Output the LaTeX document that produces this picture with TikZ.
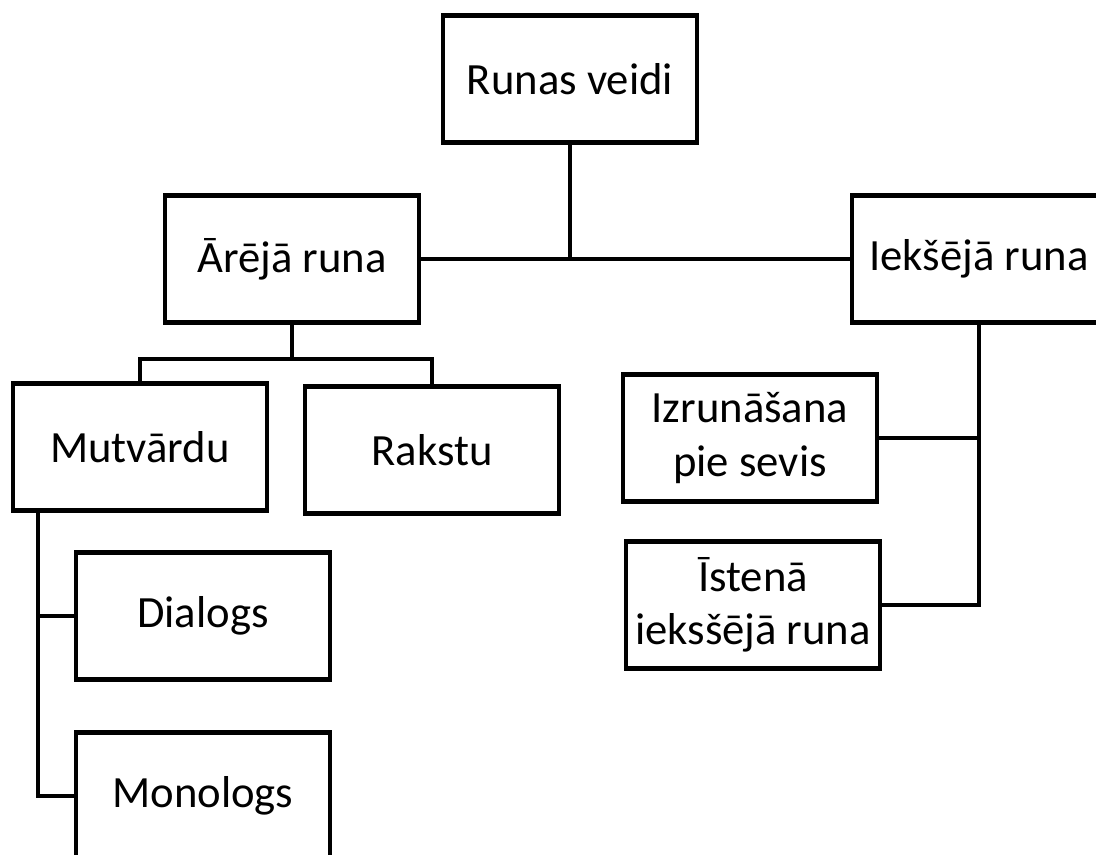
\documentclass[tikz,border=0pt]{standalone}
\usepackage{fontspec}
\setmainfont{Carlito}
\tikzset{
runbox/.style={draw,line width=3.4pt,fill=white,minimum width=190.5pt,minimum height=95pt,inner sep=2pt,align=center,font=\fontsize{33.5}{40}\selectfont},
runline/.style={line width=3.4pt}
}

\begin{document}
\begin{tikzpicture}[x=0.75pt,y=-0.75pt]
\clip (0,0) rectangle (1096,854);
\node[runbox] (runas) at (570,79) {Runas veidi};
\node[runbox] (areja) at (292,259) {Ārējā runa};
\node[runbox] (ieksa) at (979,259) {Iekšējā runa};
\node[runbox] (mutv) at (140,447) {Mutvārdu};
\node[runbox] (rakstu) at (432,450) {Rakstu};
\node[runbox] (izrun) at (750,438) {Izrunāšana\\pie sevis};
\node[runbox] (istena) at (753,605) {Īstenā\\ieksšējā runa};
\node[runbox] (dial) at (203,616) {Dialogs};
\node[runbox] (monol) at (203,796) {Monologs};
\coordinate (arejajoin) at (292,359);
\coordinate (mutvline) at (38,0);
\draw[runline] (areja.east) -- (ieksa.west);
\draw[runline] (runas.south) -- (runas.south |- ieksa.west);
\draw[runline] (areja.south) -- (arejajoin);
\draw[runline] (mutv.north) |- (arejajoin) -| (rakstu.north);
\draw[runline] (ieksa.south) |- (istena.east);
\draw[runline] (izrun.east) -- (izrun.east -| ieksa.south);
\draw[runline] (mutv.south -| mutvline) |- (monol.west);
\draw[runline] (dial.west) -- (dial.west -| mutvline);
\end{tikzpicture}
\end{document}
